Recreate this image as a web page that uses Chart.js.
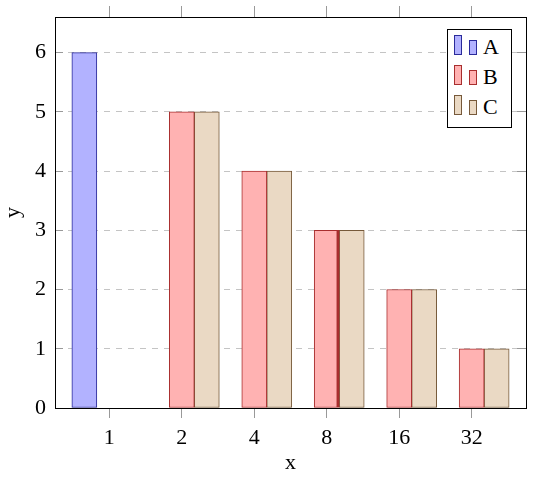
<!DOCTYPE html>
<html>
<head>
<meta charset="utf-8">
<script src="https://cdn.jsdelivr.net/npm/chart.js@4/dist/chart.umd.min.js"></script>
<style>
  body { margin: 0; background: #fff; }
  #wrap { position: relative; width: 540px; height: 484px; }
  #legend {
    position: absolute; left: 447px; top: 29px; width: 63px; height: 97px;
    border: 1px solid #000; background: #fff;
    font-family: "Liberation Serif", serif; font-size: 22px;
  }
  .row { position: absolute; left: 0; height: 24px; width: 63px; }
  .bar { position: absolute; bottom: 0; width: 6px; border: 1px solid; }
  .lbl { position: absolute; left: 35px; bottom: -4px; line-height: 24px; }
</style>
</head>
<body>
<div id="wrap">
  <canvas id="chart" width="540" height="484"></canvas>
  <div id="legend"></div>
</div>
<script>
"use strict";

const categories = ["1", "2", "4", "8", "16", "32"];
const seriesA = [6, 0, 0, 0, 0, 0];
const seriesB = [0, 5, 4, 3, 2, 1];
const seriesC = [0, 5, 4, 3, 2, 1];
const yTicks = [0, 1, 2, 3, 4, 5, 6];

const font = { family: "'Liberation Serif', serif", size: 22 };

function points(values) {
  return values.map((v, i) => ({ x: i, y: v }));
}

const datasets = [
  { label: "A", data: points(seriesA), backgroundColor: "rgb(178,178,255)", borderColor: "#2a2a9a" },
  { label: "B", data: points(seriesB), backgroundColor: "rgb(255,178,178)", borderColor: "#a82e2e" },
  { label: "C", data: points(seriesC), backgroundColor: "rgb(234,217,196)", borderColor: "#76593a" }
];
datasets.forEach(d => {
  d.borderWidth = 1;
  d.barThickness = 25;
  d.borderSkipped = false;
});
// the "8" bar of B has a heavier right edge in the original
datasets[1].borderWidth = c => c.dataIndex === 3 ? { left: 1, top: 1, bottom: 1, right: 3 } : 1;

const xTickSet = s => { s.ticks = categories.map((_, i) => ({ value: i })); };
const yTickSet = s => { s.ticks = yTicks.map(v => ({ value: v })); };
const noPad = s => { s.paddingTop = 0; s.paddingBottom = 0; s.paddingLeft = 0; s.paddingRight = 0; };

var ctx = document.getElementById("chart").getContext("2d");
var chart = new Chart(ctx, {
  type: "bar",
  data: { datasets: datasets },
  options: {
    responsive: false,
    animation: false,
    layout: { padding: 0, autoPadding: false },
    plugins: { legend: { display: false }, tooltip: { enabled: false } },
    scales: {
      x: {
        type: "linear",
        position: "bottom",
        offset: false,
        min: -0.75,
        max: 5.75,
        afterBuildTicks: xTickSet,
        afterFit: s => { noPad(s); s.height = 76; },
        grid: { offset: false, drawOnChartArea: false, tickLength: 10, tickColor: "#999", tickWidth: 1 },
        border: { color: "#000", width: 1 },
        ticks: { font: font, color: "#000", padding: 7, callback: v => categories[v] },
        title: { display: true, text: "x", font: font, color: "#000", padding: { top: 0, bottom: 8 } }
      },
      x2: {
        type: "linear",
        position: "top",
        offset: false,
        min: -0.75,
        max: 5.75,
        afterBuildTicks: xTickSet,
        afterFit: s => { noPad(s); s.height = 17; },
        grid: { offset: false, drawOnChartArea: false, tickLength: 11, tickColor: "#999", tickWidth: 1 },
        border: { color: "#000", width: 1 },
        ticks: { display: false }
      },
      y: {
        position: "left",
        min: 0,
        max: 6.6,
        afterBuildTicks: yTickSet,
        afterFit: s => { noPad(s); s.width = 55; },
        grid: { color: "#c4c4c4", tickLength: -8, tickColor: "#999", tickBorderDash: [] },
        border: { color: "#000", width: 1, dash: [6, 6] },
        ticks: { font: font, color: "#000", padding: 17 },
        title: { display: true, text: "y", font: font, color: "#000", padding: 0 }
      },
      y2: {
        position: "right",
        min: 0,
        max: 6.6,
        afterBuildTicks: yTickSet,
        afterFit: s => { noPad(s); s.width = 14; },
        grid: { drawOnChartArea: false, tickLength: -9, tickColor: "#999" },
        border: { color: "#000", width: 1 },
        ticks: { display: false }
      }
    }
  }
});

// legend drawn in html, inside the plot box like pgfplots
const legend = document.getElementById("legend");
datasets.forEach((d, i) => {
  const row = document.createElement("div");
  row.className = "row";
  row.style.top = (1 + i * 30) + "px";
  [[6, 20], [21, 15]].forEach(([left, h]) => {
    const b = document.createElement("div");
    b.className = "bar";
    b.style.left = left + "px";
    b.style.height = (h - 2) + "px";
    b.style.background = d.backgroundColor;
    b.style.borderColor = d.borderColor;
    row.appendChild(b);
  });
  const t = document.createElement("span");
  t.className = "lbl";
  t.textContent = d.label;
  row.appendChild(t);
  legend.appendChild(row);
});
</script>
</body>
</html>
